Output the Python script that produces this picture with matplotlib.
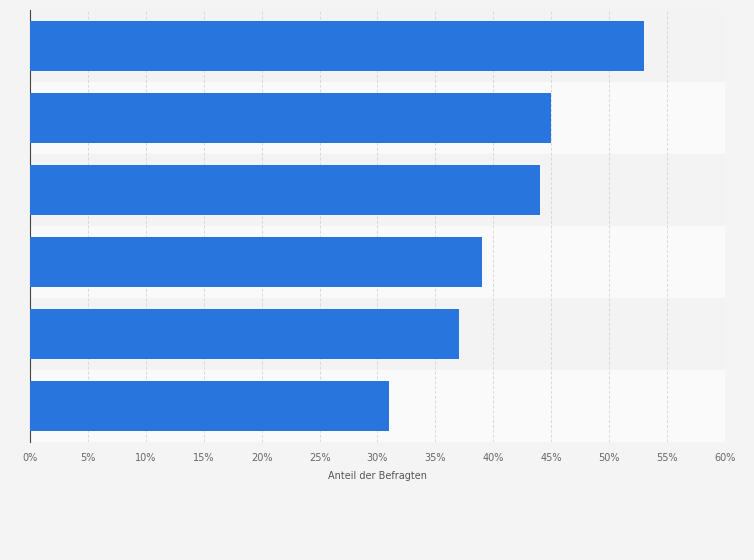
import matplotlib
matplotlib.use("Agg")
import matplotlib.pyplot as plt

categories = ["A", "B", "C", "D", "E", "F"]
values = [53, 45, 44, 39, 37, 31]
ticks = list(range(0, 65, 5))
tick_labels = [f"{t}%" for t in ticks]

fig = plt.figure(figsize=(7.54, 5.60), dpi=100)
fig.patch.set_facecolor("#f4f4f4")
ax = fig.add_axes([30/754, 1-442/560, 695/754, 432/560])
ax.set_facecolor("#fafafa")
n = len(categories)
ys = list(range(n))
for i in ys:
    ax.axhspan(i-0.5, i+0.5, color="#f3f3f3" if i % 2 == 0 else "#fafafa", zorder=0, lw=0)
ax.barh(ys, values, height=0.7, color="#2775dd", zorder=3)
ax.set_ylim(n-0.5, -0.5)
ax.set_xlim(0, 60)
ax.set_xticks(ticks)
ax.set_xticklabels(tick_labels, fontsize=7, color="#666666")
ax.set_yticks([])
ax.grid(axis="x", color="#d8d8d8", linestyle=(0, (3, 2)), lw=0.7, zorder=1)
for s in ["top", "right", "bottom"]:
    ax.spines[s].set_visible(False)
ax.spines["left"].set_color("#444444")
ax.tick_params(axis="x", length=0, pad=8)
ax.set_xlabel("Anteil der Befragten", fontsize=7, color="#555555", labelpad=6)
fig.savefig("out.png", dpi=100, facecolor=fig.get_facecolor())
